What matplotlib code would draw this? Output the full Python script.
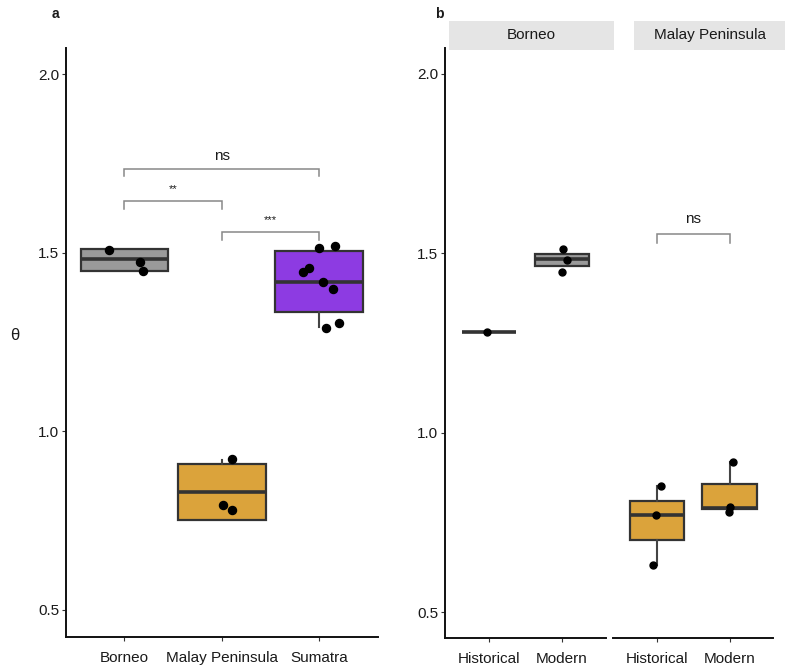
import matplotlib
matplotlib.use("Agg")
import matplotlib.pyplot as plt
import numpy as np

plt.rcParams['font.family'] = ['Liberation Sans', 'DejaVu Sans']

# ---------------- data: panel a ----------------
regions = ["Borneo", "Malay Peninsula", "Sumatra"]
region_colors = ["#9a9a9a", "#dba33b", "#8d3be2"]
a_q1 = [1.449, 0.751, 1.334]
a_med = [1.482, 0.830, 1.418]
a_q3 = [1.510, 0.908, 1.505]
a_lo = [1.449, 0.751, 1.291]
a_hi = [1.510, 0.920, 1.513]
a_pts_borneo = [1.508, 1.475, 1.449]
a_jit_borneo = [-0.155, 0.165, 0.186]
a_pts_malay = [0.922, 0.793, 0.780]
a_jit_malay = [0.11, 0.013, 0.106]
a_pts_sumatra = [1.513, 1.520, 1.446, 1.458, 1.418, 1.399, 1.290, 1.303]
a_jit_sumatra = [0.003, 0.165, -0.168, -0.10, 0.038, 0.141, 0.072, 0.209]
a_pairs = [(1, 3, 1.734, "ns"), (1, 2, 1.645, "**"), (2, 3, 1.557, "***")]

# ---------------- data: panel b ----------------
periods = ["Historical", "Modern"]
facets = ["Borneo", "Malay Peninsula"]
b_colors = ["#9a9a9a", "#dba33b"]
b_q1 = [[1.281, 1.464], [0.701, 0.787]]
b_med = [[1.281, 1.483], [0.772, 0.791]]
b_q3 = [[1.281, 1.497], [0.811, 0.856]]
b_lo = [[1.281, 1.464], [0.631, 0.787]]
b_hi = [[1.281, 1.497], [0.851, 0.919]]
b_pts = [[[1.281], [1.511, 1.481, 1.448]],
         [[0.851, 0.772, 0.631], [0.919, 0.794, 0.780]]]
b_jit = [[[-0.032], [0.019, 0.065, 0.005]],
         [[0.054, -0.018, -0.051], [0.046, 0.001, -0.009]]]
b_pairs = [None, (1, 2, 1.555, "ns")]

yticks = [0.5, 1.0, 1.5, 2.0]
ytick_labels = ["0.5", "1.0", "1.5", "2.0"]

EDGE = "#333333"
TXT = "#1a1a1a"

fig = plt.figure(figsize=(7.85, 6.72), dpi=100)


def stats(q1, med, q3, lo, hi):
    return dict(q1=q1, med=med, q3=q3, whislo=lo, whishi=hi, fliers=[])


def draw_boxes(ax, st, colors, width):
    pos = list(range(1, len(st) + 1))
    bp = ax.bxp(st, positions=pos, widths=width, patch_artist=True,
                showcaps=False, showfliers=False,
                boxprops=dict(edgecolor=EDGE, linewidth=1.6),
                medianprops=dict(color=EDGE, linewidth=2.6, solid_capstyle='butt'),
                whiskerprops=dict(color="#444444", linewidth=1.5))
    for patch, c in zip(bp['boxes'], colors):
        patch.set_facecolor(c)
    return bp


def style_axis(ax, left=True):
    for s in ['top', 'right']:
        ax.spines[s].set_visible(False)
    ax.spines['bottom'].set_linewidth(1.4)
    ax.spines['bottom'].set_color("#111111")
    if left:
        ax.spines['left'].set_linewidth(1.4)
        ax.spines['left'].set_color("#111111")
        ax.set_yticks(yticks)
        ax.set_yticklabels(ytick_labels)
    else:
        ax.spines['left'].set_visible(False)
        ax.set_yticks([])
    ax.tick_params(axis='both', length=3, width=0.8, color="#333333",
                   labelsize=11, labelcolor=TXT, pad=2)
    ax.tick_params(axis='x', pad=7)


def bracket(ax, x1, x2, y, label, tip, fs, dy):
    ax.plot([x1, x1, x2, x2], [y - tip, y, y, y - tip], color="#888888",
            lw=1.1, solid_joinstyle='miter')
    ax.text((x1 + x2) / 2, y + dy, label, ha='center', va='center',
            fontsize=fs, color=TXT)


# ---------------- panel a ----------------
ax_a = fig.add_axes([66 / 785, 1 - 636.7 / 672, 311.5 / 785, 588.4 / 672])
st_a = [stats(*v) for v in zip(a_q1, a_med, a_q3, a_lo, a_hi)]
draw_boxes(ax_a, st_a, region_colors, 0.9)
for i, (pts, jit) in enumerate([(a_pts_borneo, a_jit_borneo),
                                (a_pts_malay, a_jit_malay),
                                (a_pts_sumatra, a_jit_sumatra)]):
    ax_a.plot(np.array(jit) + i + 1, pts, 'o', color='black', ms=5.8, zorder=5)
for x1, x2, y, lab in a_pairs:
    if lab == "ns":
        bracket(ax_a, x1, x2, y, lab, 0.02, 11, 0.036)
    else:
        bracket(ax_a, x1, x2, y, lab, 0.022, 8, 0.034)
ax_a.set_xlim(0.4, 3.6)
ax_a.set_ylim(0.424, 2.073)
ax_a.set_xticks([1, 2, 3])
ax_a.set_xticklabels(regions)
style_axis(ax_a)

# ---------------- panel b ----------------
b_lefts = [445.3, 613.3]
b_widths = [160.4, 160.0]
for k in range(2):
    ax = fig.add_axes([b_lefts[k] / 785, 1 - 637.7 / 672, b_widths[k] / 785, 589.4 / 672])
    st_b = [stats(*v) for v in zip(b_q1[k], b_med[k], b_q3[k], b_lo[k], b_hi[k])]
    draw_boxes(ax, st_b, [b_colors[k]] * 2, 0.75)
    for j in range(2):
        ax.plot(np.array(b_jit[k][j]) + j + 1, b_pts[k][j], 'o', color='black',
                ms=5.0, zorder=5)
    if b_pairs[k] is not None:
        x1, x2, y, lab = b_pairs[k]
        bracket(ax, x1, x2, y, lab, 0.026, 11, 0.041)
    ax.set_xlim(0.4, 2.6)
    ax.set_ylim(0.429, 2.071)
    ax.set_xticks([1, 2])
    ax.set_xticklabels(periods)
    style_axis(ax, left=(k == 0))

# facet strips
strip_x = [(449.3, 614.0), (634.3, 785.0)]
for (x0, x1), name in zip(strip_x, facets):
    sax = fig.add_axes([x0 / 785, 1 - 50 / 672, (x1 - x0) / 785, 29.5 / 672])
    sax.set_facecolor("#e5e5e5")
    for s in sax.spines.values():
        s.set_visible(False)
    sax.set_xticks([])
    sax.set_yticks([])
    sax.text(0.5, 0.5, name, ha='center', va='center', fontsize=11,
             color=TXT, transform=sax.transAxes)

# labels
fig.text(15 / 785, 1 - 336 / 672, "θ", ha='center', va='center', fontsize=12, color=TXT)
fig.text(55 / 785, 1 - 14 / 672, "a", ha='center', va='center', fontsize=10,
         fontweight='bold', color=TXT)
fig.text(439 / 785, 1 - 14 / 672, "b", ha='center', va='center', fontsize=10,
         fontweight='bold', color=TXT)

fig.savefig("out.png", dpi=100)
